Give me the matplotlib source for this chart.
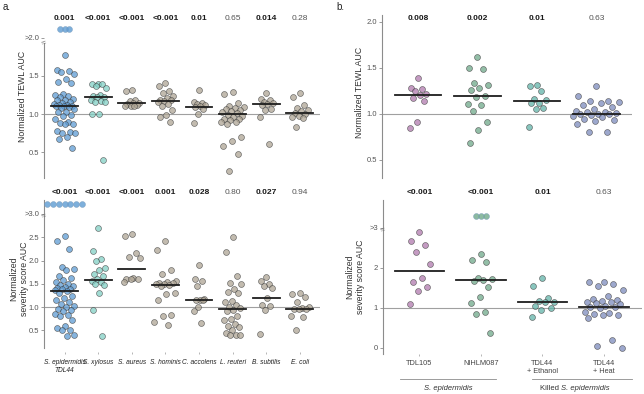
import numpy as np
import matplotlib
matplotlib.use("Agg")
import matplotlib.pyplot as plt
from matplotlib.transforms import blended_transform_factory
from matplotlib.lines import Line2D

plt.rcParams['font.family'] = ['Liberation Sans', 'DejaVu Sans']

# ---- data ----
species = ['S. epidermidis\nTDL44', 'S. xylosus', 'S. aureus', 'S. hominis',
           'C. accolens', 'L. reuteri', 'B. subtilis', 'E. coli']
strains = ['TDL105', 'NIHLM087', 'TDL44\n+ Ethanol', 'TDL44\n+ Heat']

tewl_a = [
    [1.77, 1.58, 1.57, 1.55, 1.53, 1.46, 1.42, 1.41, 1.26, 1.25, 1.24, 1.22, 1.20, 1.19,
     1.18, 1.16, 1.15, 1.13, 1.12, 1.12, 1.11, 1.10, 1.10, 1.09, 1.08, 1.06, 1.03, 1.02,
     0.99, 0.97, 0.94, 0.90, 0.88, 0.87, 0.87, 0.77, 0.76, 0.75, 0.75, 0.70, 0.67, 0.55],
    [1.40, 1.40, 1.39, 1.37, 1.34, 1.25, 1.24, 1.23, 1.22, 1.18, 1.17, 1.16, 1.16, 1.00, 1.00, 0.40],
    [1.31, 1.30, 1.19, 1.17, 1.15, 1.14, 1.13, 1.12, 1.11, 1.10, 1.10],
    [1.41, 1.37, 1.30, 1.27, 1.24, 1.21, 1.19, 1.18, 1.17, 1.16, 1.13, 1.10, 1.05, 0.99, 0.96, 0.89],
    [1.31, 1.16, 1.15, 1.13, 1.12, 1.10, 1.09, 1.06, 1.00, 0.88],
    [1.29, 1.26, 1.14, 1.10, 1.09, 1.08, 1.06, 1.05, 1.04, 1.03, 1.01, 0.99, 0.98, 0.96,
     0.94, 0.93, 0.92, 0.90, 0.89, 0.87, 0.70, 0.65, 0.58, 0.48, 0.25],
    [1.28, 1.20, 1.18, 1.16, 1.14, 1.13, 1.12, 1.07, 1.05, 0.96, 0.60],
    [1.27, 1.22, 1.12, 1.08, 1.05, 1.04, 1.01, 1.00, 0.98, 0.96, 0.95, 0.83],
]
tewl_a_above = [3, 0, 0, 0, 0, 0, 0, 0]
tewl_a_med = [1.11, 1.23, 1.14, 1.17, 1.09, 1.00, 1.13, 1.01]
tewl_a_p = ['0.001', '<0.001', '<0.001', '<0.001', '0.01', '0.65', '0.014', '0.28']

sev_a = [
    [2.52, 2.41, 2.25, 1.87, 1.81, 1.79, 1.66, 1.62, 1.59, 1.55, 1.49, 1.47, 1.45, 1.43,
     1.41, 1.39, 1.38, 1.36, 1.34, 1.30, 1.24, 1.20, 1.15, 1.10, 1.06, 1.02, 1.00, 0.97,
     0.93, 0.91, 0.85, 0.83, 0.82, 0.73, 0.59, 0.55, 0.52, 0.50, 0.40, 0.38],
    [2.69, 2.21, 2.04, 1.98, 1.84, 1.80, 1.72, 1.66, 1.60, 1.56, 1.53, 1.50, 1.47, 1.30, 0.94, 0.38],
    [2.56, 2.52, 2.17, 2.07, 2.05, 1.62, 1.61, 1.60, 1.60, 1.54],
    [2.41, 2.22, 1.79, 1.72, 1.57, 1.53, 1.52, 1.51, 1.50, 1.49, 1.47, 1.45, 1.30, 1.28,
     1.15, 0.83, 0.82, 0.68, 0.62],
    [1.91, 1.60, 1.56, 1.46, 1.17, 1.16, 1.15, 1.15, 1.00, 0.92, 0.67],
    [2.51, 2.19, 1.67, 1.52, 1.50, 1.40, 1.33, 1.30, 1.13, 1.10, 1.04, 1.00, 0.98, 0.93,
     0.91, 0.82, 0.74, 0.72, 0.64, 0.60, 0.58, 0.50, 0.44, 0.41, 0.41, 0.40],
    [1.65, 1.57, 1.50, 1.46, 1.41, 1.20, 1.05, 1.02, 0.94, 0.43],
    [1.30, 1.29, 1.21, 1.12, 1.00, 0.98, 0.96, 0.95, 0.95, 0.80, 0.78, 0.52],
]
sev_a_above = [7, 0, 0, 0, 0, 0, 0, 0]
sev_a_med = [1.34, 1.59, 1.82, 1.48, 1.16, 0.97, 1.20, 0.97]
sev_a_p = ['<0.001', '<0.001', '<0.001', '0.001', '0.028', '0.80', '0.027', '0.94']

tewl_b = [
    [1.39, 1.28, 1.27, 1.25, 1.22, 1.21, 1.17, 1.14, 0.91, 0.85],
    [1.62, 1.50, 1.49, 1.34, 1.32, 1.28, 1.26, 1.19, 1.18, 1.11, 1.10, 1.03, 0.91, 0.83, 0.68],
    [1.32, 1.30, 1.25, 1.16, 1.15, 1.12, 1.12, 1.07, 1.05, 0.86],
    [1.30, 1.20, 1.14, 1.14, 1.13, 1.12, 1.10, 1.08, 1.05, 1.03, 1.02, 1.02, 1.01, 1.00,
     1.00, 1.00, 0.99, 0.98, 0.97, 0.95, 0.93, 0.92, 0.89, 0.80, 0.80],
]
tewl_b_above = [0, 0, 0, 0]
tewl_b_med = [1.21, 1.19, 1.14, 1.00]
tewl_b_p = ['0.008', '0.002', '0.01', '0.63']

sev_b = [
    [2.88, 2.67, 2.57, 2.40, 2.09, 1.75, 1.63, 1.52, 1.41, 1.08],
    [2.33, 2.19, 2.15, 1.74, 1.72, 1.68, 1.66, 1.52, 1.26, 1.12, 0.90, 0.85, 0.37],
    [1.75, 1.54, 1.23, 1.16, 1.15, 1.14, 1.04, 1.00, 0.93, 0.77],
    [1.65, 1.63, 1.60, 1.53, 1.44, 1.30, 1.21, 1.19, 1.16, 1.15, 1.13, 1.12, 1.10, 1.03,
     1.02, 1.01, 0.98, 0.88, 0.87, 0.85, 0.82, 0.82, 0.73, 0.19, 0.04, 0.00],
]
sev_b_above = [0, 3, 0, 0]
sev_b_med = [1.92, 1.70, 1.15, 1.02]
sev_b_p = ['<0.001', '<0.001', '0.01', '0.63']

col_a = ['#5d9bd3', '#82d0c5'] + ['#aea594'] * 6
col_b = ['#b07aae', '#6fa98a', '#61b3a8', '#7d8bbd']

W, H = 644, 394
fig = plt.figure(figsize=(W / 100, H / 100), dpi=100)


def px_axes(l, t, r, b):
    return fig.add_axes([l / W, 1 - b / H, (r - l) / W, (b - t) / H])


def fx(px):
    return px / W


def fy(py):
    return 1 - py / H


def spread(n, width):
    k = np.arange(n)
    return ((k * 0.618034 + 0.5) % 1.0 - 0.5) * width


def draw(ax, groups, above, med, colors, widths, above_y, above_step, half=0.4):
    for i, vals in enumerate(groups):
        v = np.sort(np.array(vals))[::-1]
        x = i + spread(len(v), widths[i])
        ax.scatter(x, v, s=18, color=colors[i], alpha=0.75, edgecolors='#3a3a3a',
                   linewidths=0.45, zorder=3, clip_on=False)
        if above[i]:
            xa = i + (np.arange(above[i]) - (above[i] - 1) / 2) * above_step
            ax.scatter(xa, np.full(above[i], above_y), s=18, color=colors[i], alpha=0.8,
                       edgecolors='#7a9cbc', linewidths=0.4, zorder=3, clip_on=False)
        ax.plot([i - half, i + half], [med[i], med[i]], color='#1e1e1e', lw=1.3, zorder=4)
    ax.axhline(1.0, color='#a0a0a0', lw=0.8, zorder=1)
    for s in ['top', 'right', 'bottom']:
        ax.spines[s].set_visible(False)
    ax.spines['left'].set_color('#8c8c8c')
    ax.spines['left'].set_linewidth(0.8)
    ax.tick_params(axis='y', length=2, width=0.6, color='#8c8c8c', labelsize=5.5,
                   labelcolor='#555555', pad=1.5)
    ax.set_facecolor('none')


def pvals(ax, labels, py):
    tr = blended_transform_factory(ax.transData, fig.transFigure)
    for i, t in enumerate(labels):
        bold = t.startswith('<') or float(t) < 0.05
        ax.text(i, fy(py), t, transform=tr, ha='center', va='center', fontsize=6,
                fontweight='bold' if bold else 'normal',
                color='#1a1a1a' if bold else '#555555')


def brk(ax, y):
    ax.text(0, y, '\u2248', transform=blended_transform_factory(ax.transAxes, ax.transData),
            ha='center', va='center', fontsize=6, color='#777777', rotation=20)


# ---- panel a, TEWL ----
ax1 = px_axes(44, 12, 320, 178)
draw(ax1, tewl_a, tewl_a_above, tewl_a_med, col_a,
     [0.62, 0.5, 0.45, 0.5, 0.36, 0.7, 0.42, 0.5], 2.12, 0.13)
ax1.set_xlim(-0.61, 7.60)
ax1.set_ylim(0.158, 2.342)
ax1.spines['left'].set_bounds(0.158, 1.93)
ax1.set_yticks([0.5, 1.0, 1.5, 2.0], ['0.5', '1.0', '1.5', '>2.0'])
ax1.set_xticks([])
brk(ax1, 1.93)
pvals(ax1, tewl_a_p, 19)

# ---- panel a, severity ----
ax2 = px_axes(44, 200, 320, 352)
draw(ax2, sev_a, sev_a_above, sev_a_med, col_a,
     [0.6, 0.42, 0.54, 0.66, 0.33, 0.5, 0.39, 0.6], 3.22, 0.17)
ax2.set_xlim(-0.61, 7.60)
ax2.set_ylim(0.037, 3.30)
ax2.spines['left'].set_bounds(0.124, 3.30)
ax2.set_yticks([0.5, 1.0, 1.5, 2.0, 2.5, 3.0], ['0.5', '1.0', '1.5', '2.0', '2.5', '>3.0'])
ax2.set_xticks(range(len(species)))
ax2.set_xticklabels(species, fontsize=4.8, style='italic', color='#222222')
ax2.tick_params(axis='x', length=1.5, width=0.6, color='#aaaaaa', pad=3.2)
brk(ax2, 2.95)
pvals(ax2, sev_a_p, 192)

# ---- panel b, TEWL ----
ax3 = px_axes(382, 15, 632, 178)
draw(ax3, tewl_b, tewl_b_above, tewl_b_med, col_b, [0.3, 0.37, 0.32, 0.8], 2.1, 0.08,
     half=0.39)
ax3.set_xlim(-0.605, 3.597)
ax3.set_ylim(0.304, 2.076)
ax3.set_yticks([0.5, 1.0, 1.5, 2.0])
ax3.set_xticks([])
pvals(ax3, tewl_b_p, 19)

# ---- panel b, severity ----
ax4 = px_axes(383, 200, 642, 354)
draw(ax4, sev_b, sev_b_above, sev_b_med, col_b, [0.37, 0.37, 0.4, 0.64], 3.28, 0.082)
ax4.set_xlim(-0.593, 3.618)
ax4.set_ylim(-0.158, 3.69)
ax4.set_yticks([0, 1, 2, 3], ['0', '1', '2', '>3'])
ax4.set_xticks(range(len(strains)))
ax4.set_xticklabels(strains, fontsize=5.3, color='#444444')
ax4.tick_params(axis='x', length=1.5, width=0.6, color='#aaaaaa', pad=2.6)
brk(ax4, 2.95)
pvals(ax4, sev_b_p, 192)

# ---- labels ----
fig.text(fx(23), fy(96), 'Normalized TEWL AUC', rotation=90, ha='center', va='center',
         fontsize=6.3, color='#333333')
fig.text(fx(19), fy(279), 'Normalized\nseverity score AUC', rotation=90, ha='center',
         va='center', fontsize=6.3, color='#333333', multialignment='center')
fig.text(fx(359), fy(92), 'Normalized TEWL AUC', rotation=90, ha='center', va='center',
         fontsize=6.3, color='#333333')
fig.text(fx(355), fy(277), 'Normalized\nseverity score AUC', rotation=90, ha='center',
         va='center', fontsize=6.3, color='#333333', multialignment='center')
fig.text(fx(3), fy(7), 'a.', fontsize=7, va='center', ha='left', color='#222222')
fig.text(fx(336), fy(7), 'b.', fontsize=7, va='center', ha='left', color='#222222')

for x0, x1 in [(400, 496), (532, 632)]:
    fig.add_artist(Line2D([fx(x0), fx(x1)], [fy(379), fy(379)], color='#8c8c8c', lw=0.6))
fig.text(fx(448), fy(388), 'S. epidermidis', style='italic', fontsize=5.5, ha='center',
         va='center', color='#333333')
fig.text(fx(561), fy(388), 'Killed ', fontsize=5.5, ha='right', va='center', color='#333333')
fig.text(fx(561), fy(388), 'S. epidermidis', style='italic', fontsize=5.5, ha='left',
         va='center', color='#333333')

fig.savefig('out.png', dpi=100)
